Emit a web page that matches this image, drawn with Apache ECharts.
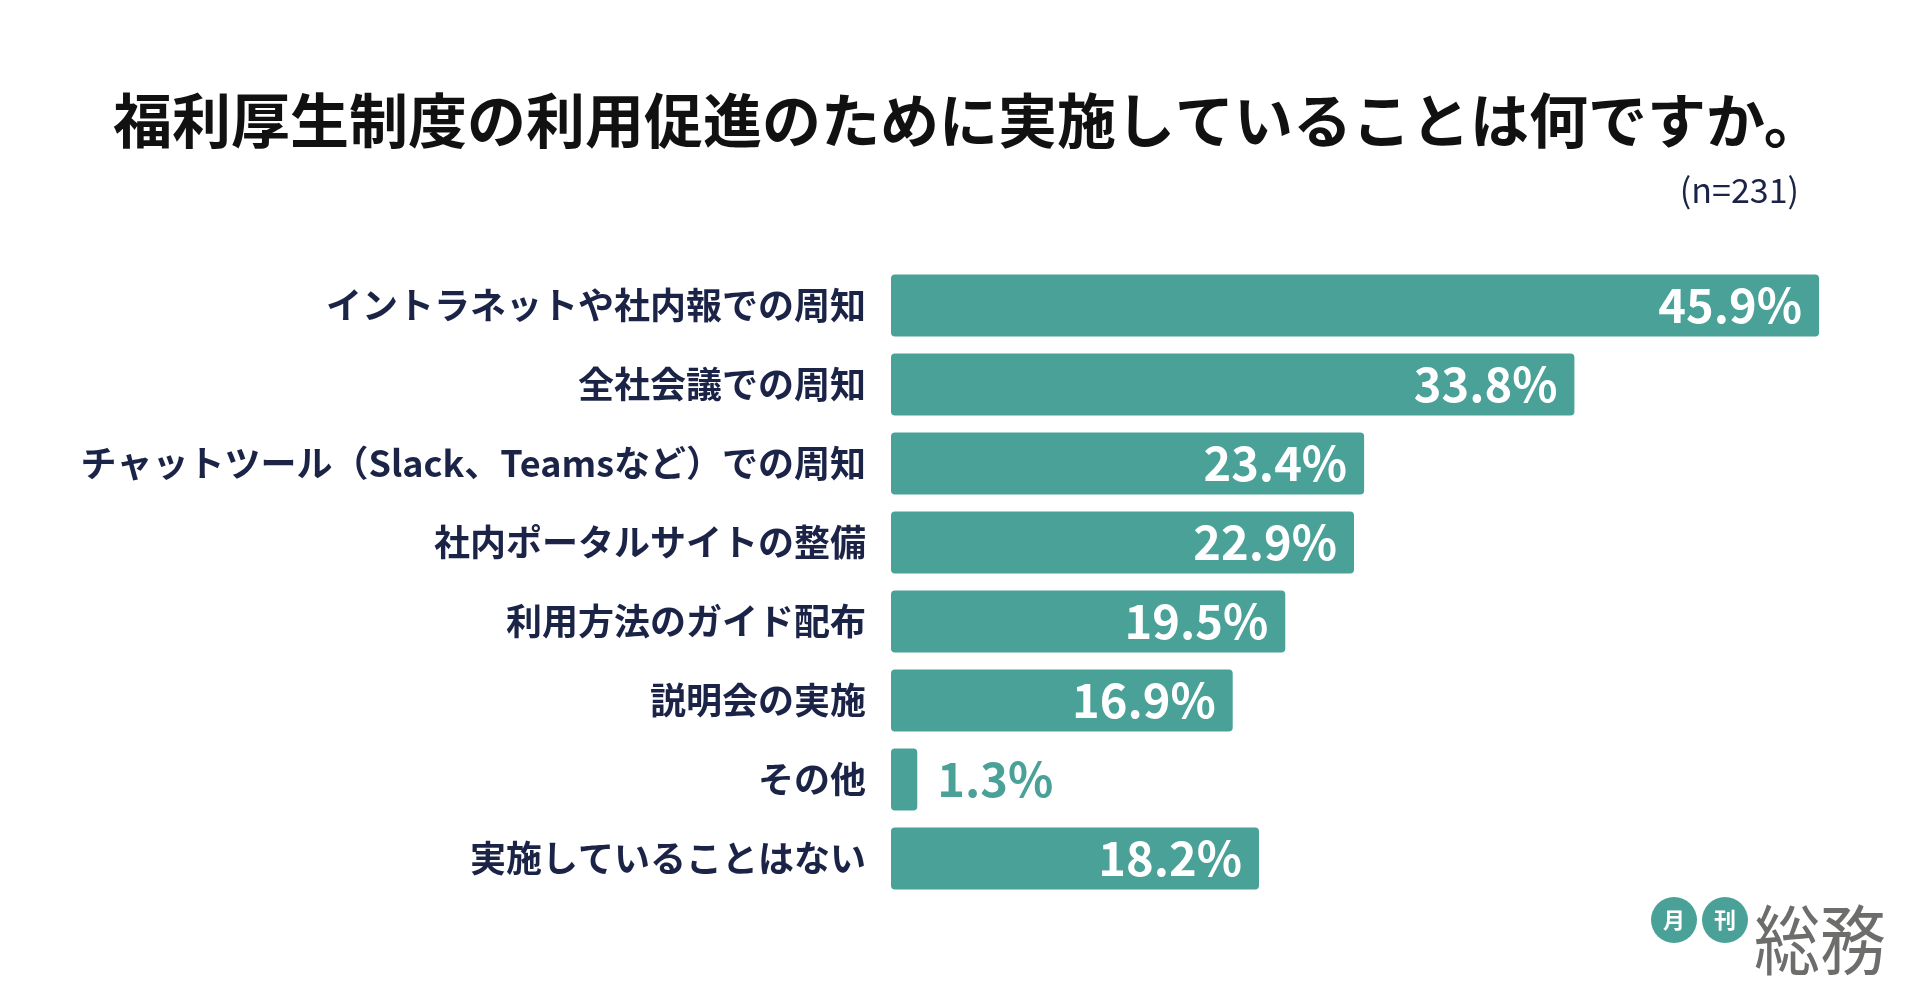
<!DOCTYPE html>
<html>
<head>
<meta charset="utf-8">
<title>福利厚生制度の利用促進のために実施していることは何ですか。</title>
<script src="https://cdn.jsdelivr.net/npm/echarts@6/dist/echarts.min.js"></script>
<style>
    html, body { margin: 0; padding: 0; background: #fff; }
    #chart { width: 1920px; height: 1005px; }
</style>
</head>
<body>
<div id="chart"></div>
<script>
var categories = [
    'イントラネットや社内報での周知',
    '全社会議での周知',
    'チャットツール（Slack、Teamsなど）での周知',
    '社内ポータルサイトの整備',
    '利用方法のガイド配布',
    '説明会の実施',
    'その他',
    '実施していることはない'
];
var values = [45.9, 33.8, 23.4, 22.9, 19.5, 16.9, 1.3, 18.2];

(function () {
    var chartDom = document.getElementById('chart');
    var myChart = echarts.init(chartDom);
    var option;

    var teal = '#4aa198';
    var navy = '#1b2447';
    var jp = '"Noto Sans CJK JP", "Noto Sans", sans-serif';

    // 小さい値はバーの外側に表示
    var seriesData = values.map(function (v) {
        if (v < 5) {
            return {
                value: v,
                label: { position: 'right', distance: 20, color: teal }
            };
        }
        return v;
    });

    option = {
        backgroundColor: '#ffffff',
        animation: false,
        title: [
            {
                text: '福利厚生制度の利用促進のために実施していることは何ですか。',
                left: 108,
                top: 86,
                textStyle: {
                    fontFamily: jp,
                    fontSize: 59,
                    fontWeight: 'bold',
                    color: '#111111'
                }
            },
            {
                text: '(n=231)',
                right: 116,
                top: 168,
                textStyle: {
                    fontFamily: jp,
                    fontSize: 34,
                    fontWeight: 'normal',
                    color: navy
                }
            }
        ],
        grid: {
            left: 891,
            right: 14,
            top: 266,
            bottom: 107,
            containLabel: false
        },
        xAxis: {
            type: 'value',
            min: 0,
            max: 50.2,
            show: false
        },
        yAxis: {
            type: 'category',
            inverse: true,
            data: categories,
            axisLine: { show: false },
            axisTick: { show: false },
            splitLine: { show: false },
            axisLabel: {
                margin: 25,
                fontFamily: jp,
                fontSize: 36,
                fontWeight: 'bold',
                color: navy
            }
        },
        series: [
            {
                type: 'bar',
                data: seriesData,
                barWidth: 62,
                itemStyle: {
                    color: teal,
                    borderRadius: 4
                },
                label: {
                    show: true,
                    position: 'insideRight',
                    distance: 17,
                    formatter: function (p) { return p.value.toFixed(1) + '%'; },
                    fontFamily: jp,
                    fontSize: 47,
                    fontWeight: 'bold',
                    color: '#ffffff'
                }
            }
        ],
        graphic: [
            {
                type: 'circle',
                shape: { cx: 1674, cy: 920, r: 23 },
                style: { fill: teal }
            },
            {
                type: 'circle',
                shape: { cx: 1725, cy: 920, r: 23 },
                style: { fill: teal }
            },
            {
                type: 'text',
                x: 1674, y: 920,
                style: {
                    text: '月', fill: '#fff', fontFamily: jp, fontSize: 22, fontWeight: 'bold',
                    align: 'center', verticalAlign: 'middle'
                }
            },
            {
                type: 'text',
                x: 1725, y: 920,
                style: {
                    text: '刊', fill: '#fff', fontFamily: jp, fontSize: 22, fontWeight: 'bold',
                    align: 'center', verticalAlign: 'middle'
                }
            },
            {
                type: 'text',
                x: 1754, y: 940,
                scaleY: 1.15,
                style: {
                    text: '総務', fill: '#6d6e6c', fontFamily: jp, fontSize: 66, fontWeight: 'normal',
                    align: 'left', verticalAlign: 'middle'
                }
            }
        ]
    };

    myChart.setOption(option);
    window.addEventListener('resize', function () {
        myChart.resize();
    });
})();
</script>
</body>
</html>
